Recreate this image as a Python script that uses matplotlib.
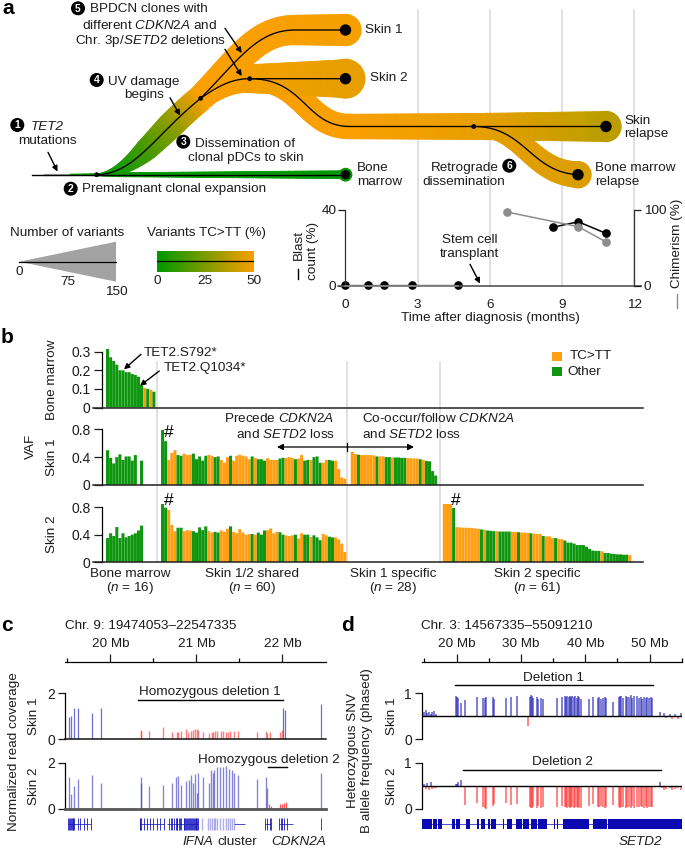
import numpy as np
import matplotlib
matplotlib.use('Agg')
import matplotlib.pyplot as plt
from matplotlib.colors import LinearSegmentedColormap
from matplotlib.collections import PolyCollection
from matplotlib.patches import Circle, Polygon, Rectangle

plt.rcParams['font.family'] = ['Liberation Sans', 'DejaVu Sans']
plt.rcParams['mathtext.fontset'] = 'custom'
plt.rcParams['mathtext.rm'] = 'Liberation Sans'
plt.rcParams['mathtext.it'] = 'Liberation Sans:italic'
plt.rcParams['mathtext.bf'] = 'Liberation Sans:bold'

W, H = 685, 848
FS = 9.7
INK = '#1c1c1c'
GREEN = '#0f960f'
ORANGE = '#ff9e12'
GUIDE = '#dedede'

# ---------------- panel a time course
blast_t = [0, 0.93, 1.62, 2.77, 4.66, 8.6, 9.67, 10.82]
blast_v = [0.5, 0.5, 0.5, 0.5, 0.5, 30.9, 33.8, 27.7]
chim_t = [0, 0.93, 1.62, 2.77, 4.66, 6.7, 9.67, 10.82]
chim_v = [0.3, 0.3, 0.3, 0.3, 0.3, 97.4, 78, 58]

# ---------------- panel b VAF values
bm_vaf_bm = [.33, .27, .25, .23, .20, .20, .19, .19, .18, .175, .165, .12, .105, .10, .095, .085]
bm_vaf_s1 = [.50, .39, .31, .40, .44, .36, .41, .41, .35, .43, 0, .35, 0, 0, 0, 0]
bm_vaf_s2 = [.35, .42, .38, .51, .35, .42, .36, .38, .40, .42, .46, .53, 0, 0, 0, 0]
bm_type = 'ggggggggggggogog'

shared_s1 = [.79, .63, .36, .46, .50, .43, .42, .45, .43, .435,
             .45, .37, .41, .35, .42, .43, .42, .40, .41, .36,
             .32, .40, .42, .35, .42, .435, .42, .41, .37, .41,
             .39, .37, .37, .35, .385, .36, .36, .36, .38, .39,
             .39, .40, .39, .37, .38, .43, .35, .36, .36, .40,
             .41, .32, .32, .36, .36, .35, .35, .23, .11, .09]
shared_s2 = [.91, .79, .755, .54, .45, .50, .50, .45, .465, .46,
             .45, .43, .505, .465, .52, .45, .43, .44, .43, .46,
             .44, .485, .52, .44, .42, .48, .43, .40, .41, .41,
             .40, .43, .40, .46, .465, .49, .42, .44, .435, .40,
             .39, .38, .39, .40, .345, .42, .40, .40, .365, .39,
             .36, .32, .41, .39, .37, .36, .36, .33, .27, .15]
shared_type = ('ggooogg' 'ooo' 'ggggg' 'oo' 'gg' 'ooo' 'g' 'oooooo' 'g' 'o' 'ggg'
               'oooo' 'gg' 'ooo' 'g' 'oo' 'gg' 'o' 'ggg' 'oo' 'gg' 'o' 'ooo')[:60]

s1_vaf = [.475, .445, .435, .43, .43, .43, .43, .425, .41, .41,
          .41, .40, .40, .395, .395, .395, .39, .39, .385, .385,
          .38, .38, .37, .36, .345, .34, .20, .135]
s1_type = 'oogooooogoo' 'ggo' 'gggg' 'oooo' 'gogggg'

s2_vaf = [.91, .90, .87, .785, .51, .505, .50, .50, .50, .495,
          .49, .485, .475, .47, .46, .455, .45, .45, .445, .445,
          .445, .445, .44, .44, .435, .43, .43, .425, .42, .415,
          .41, .41, .38, .375, .375, .35, .35, .34, .335, .315,
          .285, .285, .27, .25, .25, .25, .225, .195, .17, .165,
          .165, .16, .135, .135, .125, .12, .115, .115, .11, .11, .105]
s2_type = 'ooog' 'oooooooo' 'gogggo' 'gggg' 'oo' 'g' 'ooo' 'g' 'oo' 'o' 'g' 'ooo' 'g' 'oo' 'gggggggggggg' 'o' 'gggggggg' 'o'

# ---------------- panel c read coverage (position in Mb, normalized coverage)
c1_blue_pos = [19.517, 19.547, 19.578, 19.621, 19.783, 19.895, 22.008, 22.031, 22.452]
c1_blue_val = [.96, 1.03, 1.36, 1.36, 1.13, 1.36, 1.36, 1.28, 1.52]
c1_red_pos = [20.351, 20.359, 20.447, 20.617, 20.722, 20.772, 20.783, 20.822, 20.880, 20.907,
              20.934, 20.957, 20.984, 21.004, 21.023, 21.081, 21.147, 21.177, 21.197, 21.216,
              21.235, 21.286, 21.313, 21.340, 21.371, 21.390, 21.440, 21.479, 21.699, 21.803,
              21.823, 21.853, 21.969, 21.992]
c1_red_val = [.40, .37, .38, .55, .30, .33, .30, .38, .46, .33,
              .38, .39, .45, .46, .40, .30, .26, .30, .33, .35,
              .36, .38, .36, .33, .33, .38, .38, .38, .30, .36,
              .26, .30, .33, .40]
c2_blue_pos = [19.517, 19.547, 19.578, 19.621, 19.783, 19.895, 20.351, 20.359, 20.447, 20.617,
               20.722, 20.764, 20.783, 20.822, 20.880, 20.915, 20.934, 20.957, 20.984, 21.004,
               21.023, 21.081, 21.147, 21.166, 21.189, 21.208, 21.235, 21.274, 21.313, 21.340,
               21.378, 21.409, 21.440, 21.479, 21.699, 21.803, 21.823, 22.452]
c2_blue_val = [1.36, .64, .99, 1.29, 1.46, 1.13, 1.36, 1.13, .99, 1.04,
               1.13, 1.36, 1.42, 1.04, 1.20, 1.25, 1.46, 1.10, 1.49, .67,
               1.57, 1.36, 1.13, 1.68, 1.54, 1.68, 1.80, 1.80, 1.80, 1.86,
               1.71, 1.68, 1.54, 1.46, 1.29, 1.36, .88, 1.54]
c2_red_pos = [21.842, 21.861, 21.969, 21.992, 22.016, 22.039]
c2_red_val = [.20, .12, .20, .22, .26, .30]
c_exons = [19.51, 19.52, 19.53, 19.54, 19.55, 19.56, 19.57, 19.58, 19.62, 19.65, 19.69, 19.73, 19.78,
           20.34, 20.35, 20.36, 20.39, 20.42, 20.46, 20.49, 20.54, 20.58, 20.62,
           20.68, 20.70, 20.72, 20.74, 20.76, 20.77, 20.78, 20.80, 20.81, 20.82, 20.85, 20.86, 20.87,
           20.88, 20.89, 20.90, 20.91, 20.92, 20.94, 20.95, 20.96, 20.97, 20.98, 20.99, 21.00, 21.01, 21.02,
           21.80, 21.82, 21.85, 21.87, 21.96, 21.98, 22.00, 22.02, 22.05, 22.452]
c_light = [21.07, 21.14, 21.16, 21.18, 21.20, 21.22, 21.24, 21.27, 21.31, 21.34, 21.37, 21.39, 21.41, 21.44]
c_introns = [(19.51, 19.78), (20.34, 20.62), (20.66, 21.02), (21.44, 21.56), (21.80, 21.87), (21.96, 22.12)]

# ---------------- panel d B allele frequency
snv_pos = [19.9, 20.05, 20.2, 20.62, 21.3, 23.2, 24.1, 24.35, 24.56, 25.65,
           25.85, 27.6, 28.45, 29.43, 31.45, 31.6, 31.76, 31.9, 32.44, 32.64,
           33.16, 33.37, 35.65, 36.4, 36.8, 37.0, 37.2, 37.4, 37.6, 37.8,
           38.0, 38.24, 38.45, 38.65, 38.86, 39.07, 39.27, 40.57, 41.2, 42.0,
           42.2, 42.5, 42.8, 43.1, 43.3, 44.35, 45.23, 45.4, 45.6, 45.9,
           46.27, 46.5, 46.8, 47.05, 47.3, 47.57, 48.1, 48.34, 48.6, 48.86,
           49.1, 49.4, 49.64, 49.9, 50.15, 50.4]
snv_s1 = [.95, .93, .90, .80, .86, .92, .90, .90, .92, .91,
          .87, .89, .92, .95, .92, .97, .94, .90, .91, .88,
          .90, .88, .90, .91, .94, .92, .95, .93, .95, .92,
          .95, .93, .94, .90, .95, .92, .88, .88, .92, .90,
          .92, .88, .90, .92, .90, .82, .93, .95, .94, .90,
          .95, .93, .91, .96, .90, .94, .95, .90, .93, .88,
          .92, .90, .91, .90, .92, .89]
snv_s2 = [.55, .53, .58, .62, .08, .12, .04, .02, .00, .06,
          .10, .12, .08, .10, .05, .03, .02, .04, .03, .06,
          .03, .05, .05, .06, .05, .04, .03, .04, .03, .04,
          .05, .03, .05, .04, .02, .05, .02, .06, .10, .05,
          .04, .06, .04, .03, .05, .08, .05, .02, .04, .05,
          .02, .04, .05, .03, .06, .03, .05, .04, .07, .05,
          .03, .06, .02, .05, .04, .04]
flank_s1_pos = [14.9, 15.2, 15.4, 15.7, 16.0, 16.2, 16.5, 16.75, 31.14,
                51.7, 52.2, 52.6, 53.1, 53.5, 54.0, 54.4, 54.9]
flank_s1_val = [.60, .63, .58, .60, .55, .60, .62, .55, .29,
                .60, .58, .47, .55, .45, .56, .44, .58]
flank_s2_pos = [14.9, 15.2, 15.4, 15.7, 16.0, 16.2, 16.5, 16.75, 51.7,
                51.9, 52.2, 52.6, 53.1, 53.5, 54.0, 54.4, 54.9]
flank_s2_val = [.55, .43, .56, .42, .58, .44, .46, .45, .58,
                .45, .42, .44, .46, .40, .43, .45, .42]
d_exon_start = [14.66, 16.37, 17.15, 19.33, 19.95, 21.45, 23.21, 23.73, 24.87, 25.39, 27.2, 27.77, 29.27,
                30.36, 31.5, 32.64, 35.13, 35.65, 36.53, 41.24, 43.58]
d_exon_end = [16.22, 17.0, 17.67, 19.74, 20.52, 22.07, 23.47, 24.4, 25.13, 26.06, 27.36, 28.6, 30.2,
              31.24, 32.54, 34.09, 35.23, 35.8, 40.57, 43.42, 55.09]

# ---------------- figure helpers
fig = plt.figure(figsize=(W / 100, H / 100), dpi=100)


def axpx(x0, y0, x1, y1, z=2):
    ax = fig.add_axes([x0 / W, 1 - y1 / H, (x1 - x0) / W, (y1 - y0) / H], zorder=z)
    ax.patch.set_visible(False)
    return ax


def pxlayer(z):
    ax = axpx(0, 0, W, H, z)
    ax.set_xlim(0, W)
    ax.set_ylim(H, 0)
    ax.axis('off')
    return ax


bg = pxlayer(0)
fg = pxlayer(10)


def T(x, y, s, ha='left', size=FS, rot=0, **kw):
    fg.text(x, y, s, ha=ha, va='center', fontsize=size, rotation=rot, color=kw.pop('color', INK),
            rotation_mode='anchor' if rot == 0 else 'default', **kw)


def arrow(p, q, style='-|>', lw=1.0, ms=8):
    fg.annotate('', xy=q, xytext=p,
                arrowprops=dict(arrowstyle=style, color='black', lw=lw, mutation_scale=ms,
                                shrinkA=0, shrinkB=0))


def badge(x, y, n):
    fg.add_patch(Circle((x, y), 6.3, color='black', zorder=5))
    fg.text(x, y + .2, str(n), ha='center', va='center', color='white', fontsize=7.4,
            fontweight='bold', zorder=6)


# ---------------- panel a tree
tc = LinearSegmentedColormap.from_list('tc', ['#009800', '#fa9f00'])


def bez(p0, p1, p2, p3, n=60):
    t = np.linspace(0, 1, n)[:, None]
    p0, p1, p2, p3 = map(np.array, (p0, p1, p2, p3))
    return (1 - t) ** 3 * p0 + 3 * (1 - t) ** 2 * t * p1 + 3 * (1 - t) * t ** 2 * p2 + t ** 3 * p3


def ribbon(path, xk, wk, ck, z=1):
    d = np.gradient(path, axis=0)
    nrm = np.c_[-d[:, 1], d[:, 0]] / np.maximum(np.hypot(d[:, 0], d[:, 1]), 1e-6)[:, None]
    w = np.interp(path[:, 0], xk, wk)[:, None] / 2
    up, lo = path + nrm * w, path - nrm * w
    quads = [[up[i], up[i + 1], lo[i + 1], lo[i]] for i in range(len(path) - 1)]
    cols = tc(np.interp(path[:-1, 0], xk, ck))
    bg.add_collection(PolyCollection(quads, facecolors=cols, edgecolors=cols, linewidths=0.6, zorder=z))
    return cols


def seg(a, b, n=40):
    return np.linspace(a, b, n)


for xv in [418, 490.2, 562.4, 634.5]:
    bg.plot([xv, xv], [10, 286], color=GUIDE, lw=1.3, zorder=0.2)

trunk = bez((96.7, 174.7), (135, 174), (155, 135), (200.7, 98.3))
up1 = np.r_[bez((200.7, 98.3), (240, 58), (258, 30), (295, 30)), seg((295, 30), (345.5, 30))]
up2 = np.r_[bez((200.7, 98.3), (218, 86), (232, 78.7), (249.7, 78.7)), seg((249.7, 78.7), (345.5, 78.7))]
sbr = np.r_[bez((249.7, 78.7), (305, 78.7), (305, 126.5), (350, 126.5)), seg((350, 126.5), (606, 126.5))]
bmr = bez((473.7, 126.5), (525, 126.5), (530, 172), (578, 174.7))

bg.plot([45, 95], [174.7, 174.7], color='#a8a8a8', lw=1.6, zorder=0.8)
ribbon(seg((70, 174.7), (345.5, 174.7)), [70, 95, 120, 345.5], [1, 2, 4, 8], [0, 0, 0, 0])
ribbon(trunk, [96.7, 110, 125, 146, 170, 200.7], [1, 6, 13, 22, 26, 26], [0.02, 0.06, 0.12, 0.28, 0.55, 1])
ribbon(bmr, [473.7, 578], [18, 26], [.93, .87], z=1.1)
ribbon(sbr, [249.7, 345, 473, 606], [24, 24.5, 26, 30], [1, 1, .93, .75], z=1.2)
ribbon(up2, [200.7, 250, 345.5], [22, 28, 38], [1, .97, .92], z=1.2)
ribbon(up1, [200.7, 245, 345.5], [26, 28, 31], [1, 1, .98], z=1.3)
bg.add_patch(Circle((345.5, 30), 15.5, color=tc(.98), zorder=1.3))
bg.add_patch(Circle((345.5, 78.7), 19.3, color=tc(.92), zorder=1.2))
bg.add_patch(Circle((606, 126.5), 15, color=tc(.75), zorder=1.2))
bg.add_patch(Circle((578, 174.7), 13, color=tc(.87), zorder=1.1))
bg.add_patch(Circle((345.5, 174.7), 6.2, color=tc(0), zorder=1.1))

for p in (trunk, up1, up2, sbr, bmr):
    bg.plot(p[:, 0], p[:, 1], color='black', lw=0.95, zorder=2)
bg.plot([32, 345.5], [174.7, 174.7], color='black', lw=1.0, zorder=2)
for (x, y), r in [((345.5, 30), 5), ((345.5, 78.7), 5), ((606, 126.5), 5), ((578, 174.7), 5),
                  ((345.5, 174.7), 4), ((96.7, 174.7), 1.7), ((200.7, 98.3), 1.7),
                  ((249.7, 78.7), 1.7), ((473.7, 126.5), 1.7)]:
    bg.add_patch(Circle((x, y), r, color='black', zorder=3))

badge(78, 8.3, 5)
T(90, 9, 'BPDCN clones with')
T(81.7, 25.7, r'different $\mathit{CDKN2A}$ and')
T(74.7, 41.3, r'Chr. 3p/$\mathit{SETD2}$ deletions')
badge(96.7, 80, 4)
T(108, 81.7, 'UV damage')
T(124, 95.3, 'begins')
badge(17.3, 125, 1)
T(30.7, 127.3, 'TET2', style='italic')
T(18.3, 141.3, 'mutations')
badge(70.7, 188.7, 2)
T(81.7, 188.7, 'Premalignant clonal expansion')
badge(183.3, 141.7, 3)
T(195, 144.3, 'Dissemination of')
T(188.3, 158, 'clonal pDCs to skin')
arrow((48, 152.3), (57.5, 171.5))
arrow((170, 97.7), (180, 115.5))
arrow((225, 28.3), (241.7, 53))
arrow((225, 49.3), (241.7, 76))
T(365, 30.3, 'Skin 1')
T(370, 78.3, 'Skin 2')
T(624.3, 120.7, 'Skin')
T(624.3, 134.3, 'relapse')
T(357.3, 168.3, 'Bone')
T(357.3, 181.7, 'marrow')
T(430.7, 168.3, 'Retrograde')
T(422.7, 181.7, 'dissemination')
badge(509.3, 165.7, 6)
T(595, 168.3, 'Bone marrow')
T(595, 181.7, 'relapse')
T(441.7, 240, 'Stem cell')
T(440, 254, 'transplant')
arrow((470, 264.3), (480, 283.5))
fg.text(2, 8.5, 'a', fontsize=15, fontweight='bold', va='center', color='black')

# legends
T(10, 233.3, 'Number of variants')
fg.add_patch(Polygon([(19.3, 261.7), (116, 241.7), (116, 281.7)], color='#a3a3a3', lw=0))
fg.plot([19.3, 116], [261.7, 261.7], color='black', lw=0.9)
for x, y, s in [(19.3, 271.7, '0'), (67.7, 281.7, '75'), (116, 291.7, '150')]:
    T(x, y, s, ha='center')
T(147, 233.3, 'Variants TC>TT (%)')
axc = axpx(157, 251, 254, 271.7, 3)
axc.imshow(np.linspace(0, 1, 200)[None, :], cmap=tc, aspect='auto', extent=[0, 50, 0, 1])
axc.axis('off')
axc.plot([0, 50], [.5, .5], color='black', lw=0.9)
axc.set_xlim(0, 50)
axc.set_ylim(0, 1)
for x, s in [(157, '0'), (205.3, '25'), (254, '50')]:
    T(x, 280.7, s, ha='center')

# time course axes
axt = axpx(345.3, 210, 634.5, 286, 3)
axt.set_xlim(0, 12)
axt.set_ylim(0, 40)
axr = axt.twinx()
axr.patch.set_visible(False)
axr.set_ylim(0, 100)
axr.plot(chim_t[:5], chim_v[:5], color='#8d8d8d', lw=1.1, marker='o', ms=0, clip_on=False)
axr.plot(chim_t[5:], chim_v[5:], color='#8d8d8d', lw=1.1, marker='o', ms=5.2, clip_on=False)
axt.plot(blast_t[:5], blast_v[:5], color='black', lw=0.9, marker='o', ms=5.2, clip_on=False)
axt.plot(blast_t[5:], blast_v[5:], color='black', lw=1.1, marker='o', ms=5.2, clip_on=False)
for a in (axt, axr):
    for s in ('top', 'left', 'right', 'bottom'):
        a.spines[s].set_visible(False)
axt.spines['left'].set_visible(True)
axr.spines['right'].set_visible(True)
axt.spines['bottom'].set_visible(True)
for a in (axt, axr):
    for s in a.spines.values():
        s.set_linewidth(0.9)
        s.set_color('#333333')
axt.spines['bottom'].set_bounds(-0.3, 12.25)
axt.spines['bottom'].set_linewidth(1.2)
axt.spines['bottom'].set_color('#555555')
axt.set_xticks([0, 3, 6, 9, 12])
axt.set_yticks([0, 40])
axr.set_yticks([0, 100])
axt.tick_params(axis='x', length=0, labelsize=FS, pad=9, colors=INK)
axt.tick_params(axis='y', length=5, width=0.9, labelsize=FS, pad=1.5, colors=INK)
axr.tick_params(axis='y', length=5, width=0.9, labelsize=FS, pad=1.5, colors=INK)
T(490, 318, 'Time after diagnosis (months)', ha='center')
T(299, 245, 'Blast', ha='center', rot=90)
T(313, 251, 'count (%)', ha='center', rot=90)
fg.plot([298, 298], [268.5, 278.5], color='black', lw=1)
T(677, 243, 'Chimerism (%)', ha='center', rot=90)
fg.plot([677, 677], [293.5, 308], color='#8d8d8d', lw=1)

# ---------------- panel b
BX0, BSTEP = 106.0, 3.09
starts = [0, 17.8, 79.2, 109.0]
xl = ((93 - BX0) / BSTEP, (642.7 - BX0) / BSTEP)


def vaf_axes(y_top, y0, ymax, ticks, labels, groups):
    ax = axpx(93, y_top, 642.7, y0, 3)
    ax.set_xlim(*xl)
    ax.set_ylim(0, ymax)
    for st, vals, typ in groups:
        xs = st + np.arange(len(vals)) + .5
        cols = [ORANGE if c == 'o' else GREEN for c in typ]
        bars = ax.bar(xs, vals, width=.98, color=cols, lw=0)
        for b in bars:
            b.set_snap(False)
    for s in ('top', 'right'):
        ax.spines[s].set_visible(False)
    ax.spines['left'].set_position(('data', (101.7 - BX0) / BSTEP))
    ax.spines['left'].set_bounds(0, ticks[-1])
    ax.spines['left'].set_linewidth(0.9)
    ax.spines['bottom'].set_linewidth(1.1)
    ax.spines['bottom'].set_color('#222222')
    ax.set_xticks([])
    ax.set_yticks(ticks, labels)
    ax.tick_params(axis='y', length=6, width=0.9, labelsize=FS + .3, pad=2, colors=INK)
    return ax


vaf_axes(351.7 - 3, 407.5, .3 + 3 / 186, [0, .1, .2, .3], ['0', '0.1', '0.2', '0.3'],
         [(starts[0], bm_vaf_bm, bm_type)])
vaf_axes(429.3 - 3, 485, .8 + 3 / 69.6, [0, .4, .8], ['0', '0.4', '0.8'],
         [(starts[0], bm_vaf_s1, bm_type), (starts[1], shared_s1, shared_type),
          (starts[2], s1_vaf, s1_type)])
vaf_axes(507 - 3, 562.3, .8 + 3 / 69.1, [0, .4, .8], ['0', '0.4', '0.8'],
         [(starts[0], bm_vaf_s2, bm_type), (starts[1], shared_s2, shared_type),
          (starts[3], s2_vaf, s2_type)])
for xv in (157.5, 347.3, 440):
    bg.plot([xv, xv], [362, 562], color=GUIDE, lw=1.3, zorder=0.2)

fg.text(1, 337.5, 'b', fontsize=15, fontweight='bold', va='center', color='black')
T(51.7, 380, 'Bone marrow', ha='center', rot=90)
T(51.7, 457.7, 'Skin 1', ha='center', rot=90)
T(51.7, 534.3, 'Skin 2', ha='center', rot=90)
T(30.7, 446.7, 'VAF', ha='center', rot=90)
T(143.3, 353.3, 'TET2.S792*')
T(163.3, 368.3, 'TET2.Q1034*')
arrow((141, 354.3), (124, 369.3))
arrow((159.3, 371), (140, 385.7))
T(224, 419, r'Precede $\mathit{CDKN2A}$')
T(236, 435, r'and $\mathit{SETD2}$ loss')
T(361.7, 419, r'Co-occur/follow $\mathit{CDKN2A}$')
T(361.7, 435, r'and $\mathit{SETD2}$ loss')
arrow((347.3, 447), (277, 447), lw=.9, ms=9)
arrow((347.3, 447), (414, 447), lw=.9, ms=9)
fg.plot([347.3, 347.3], [443, 451], color='black', lw=.9)
for x, y in [(168.3, 432.7), (168.3, 500.3), (456, 500.3)]:
    T(x, y, '#', ha='center', size=12.5, color='black')
for x, a, b in [(130, 'Bone marrow', '16'), (252.3, 'Skin 1/2 shared', '60'),
                (393.3, 'Skin 1 specific', '28'), (537.3, 'Skin 2 specific', '61')]:
    T(x, 574.3, a, ha='center')
    T(x, 588.3, r'($\mathit{n}$ = ' + b + ')', ha='center')
fg.add_patch(Rectangle((552.3, 351.7), 9.4, 9.4, color=ORANGE, lw=0))
fg.add_patch(Rectangle((552.3, 367), 9.4, 9.4, color=GREEN, lw=0))
T(570, 356.3, 'TC>TT')
T(567.7, 371.7, 'Other')


# ---------------- genome rulers
def ruler(x0, x1, lim, major, minor, lab):
    ax = axpx(x0, 662.3, x1, 672, 3)
    ax.set_xlim(*lim)
    ax.set_ylim(0, 1)
    for s in ('left', 'right', 'bottom'):
        ax.spines[s].set_visible(False)
    ax.spines['top'].set_linewidth(0.9)
    ax.set_yticks([])
    ax.xaxis.tick_top()
    ax.set_xticks(major, lab)
    ax.set_xticks(minor, minor=True)
    ax.tick_params(axis='x', which='major', length=6, width=.9, labelsize=FS, pad=2.5, colors=INK)
    ax.tick_params(axis='x', which='minor', length=3, width=.9)


def track(x0, x1, ytop, ybot, xlim, ylim, ticks, thick=False):
    ax = axpx(x0, ytop, x1, ybot, 3)
    ax.set_xlim(*xlim)
    ax.set_ylim(*ylim)
    for s in ('top', 'right'):
        ax.spines[s].set_visible(False)
    ax.spines['left'].set_linewidth(.9)
    ax.spines['bottom'].set_linewidth(2 if thick else 1.1)
    ax.spines['bottom'].set_color('#555555' if thick else '#111111')
    ax.set_xticks([])
    ax.set_yticks(ticks)
    ax.tick_params(axis='y', length=5, width=.9, labelsize=FS + .3, pad=2, colors=INK)
    return ax


CLIM = (19.467, 22.50)
BLUE = '#3030c0'
RED = '#ff2a2a'
ruler(64.5, 325.5, CLIM, [20, 21, 22], [19.5, 20.5, 21.5], ['20 Mb', '21 Mb', '22 Mb'])
a1 = track(64.5, 325.5, 693.3, 739.3, CLIM, (0, 2), [0, 2])
a1.vlines(c1_blue_pos, 0, c1_blue_val, color=BLUE, lw=.9, alpha=.7)
a1.vlines(c1_red_pos, 0, c1_red_val, color=RED, lw=1.0, alpha=.6)
a2 = track(64.5, 325.5, 762.7, 808.7, CLIM, (0, 2), [0, 2], thick=True)
a2.vlines(c2_blue_pos, 0, c2_blue_val, color=BLUE, lw=.95, alpha=.6)
a2.vlines(c2_red_pos, 0, c2_red_val, color=RED, lw=.9, alpha=.8)
g = axpx(64.5, 816, 325.5, 832, 3)
g.set_xlim(*CLIM)
g.set_ylim(0, 1)
g.axis('off')
g.hlines([.5] * len(c_introns), [i[0] for i in c_introns], [i[1] for i in c_introns], color=BLUE, lw=.6)
g.vlines(c_exons, .12, .88, color='#1616c0', lw=.7, alpha=.85)
g.vlines(c_light, .12, .88, color='#7070d8', lw=1, alpha=.55)

fg.text(1, 625.7, 'c', fontsize=15, fontweight='bold', va='center', color='black')
T(65, 626, 'Chr. 9: 19474053–22547335')
T(14, 751.7, 'Normalized read coverage', ha='center', rot=90)
T(34.3, 716.7, 'Skin 1', ha='center', rot=90)
T(34.3, 785.7, 'Skin 2', ha='center', rot=90)
T(210, 692, 'Homozygous deletion 1', ha='center')
fg.plot([138.3, 282.7], [700.3, 700.3], color='black', lw=1)
T(198, 760, 'Homozygous deletion 2')
fg.plot([268.3, 286.7], [767.3, 767.3], color='black', lw=1)
T(182.7, 842, 'IFNA', style='italic')
T(217, 842, 'cluster')
T(326, 842, 'CDKN2A', ha='right', style='italic')

# ---------------- panel d
DLIM = (14.567, 55.09)
ruler(421.7, 682.3, DLIM, [20, 30, 40, 50], [15, 25, 35, 45, 55], ['20 Mb', '30 Mb', '40 Mb', '50 Mb'])
for ytop, ybot, pos, vals in [(693.3, 739.3, snv_pos + flank_s1_pos, snv_s1 + flank_s1_val),
                              (762.7, 809, snv_pos + flank_s2_pos, snv_s2 + flank_s2_val)]:
    a = track(421.7, 682.3, ytop, ybot, DLIM, (0, 1), [0, 1])
    a.spines['bottom'].set_visible(False)
    pos, vals = np.array(pos), np.array(vals)
    up = vals >= .5
    a.vlines(pos[up], .5, vals[up], color='#2a2ab8', lw=1.25, alpha=.68)
    a.vlines(pos[~up], .5, vals[~up], color=RED, lw=1.3, alpha=.62)
    a.axhline(.5, color='black', lw=1.0, zorder=4)
g = axpx(421.7, 819, 682.3, 829, 3)
g.set_xlim(*DLIM)
g.set_ylim(0, 1)
g.axis('off')
g.broken_barh([(a, b - a) for a, b in zip(d_exon_start, d_exon_end)], (0, 1), color='#0a0ab0', lw=0)
g.hlines(.5, DLIM[0], DLIM[1], color='#0a0ab0', lw=.5)

fg.text(341, 625.7, 'd', fontsize=15, fontweight='bold', va='center', color='black')
T(421, 626, 'Chr. 3: 14567335–55091210')
T(352.7, 750.8, 'Heterozygous SNV', ha='center', rot=90)
T(367.3, 750.8, 'B allele frequency (phased)', ha='center', rot=90)
T(392.3, 716.7, 'Skin 1', ha='center', rot=90)
T(392.3, 786, 'Skin 2', ha='center', rot=90)
T(553.3, 677.7, 'Deletion 1', ha='center')
fg.plot([455, 652.7], [685.3, 685.3], color='black', lw=1)
T(562.3, 762, 'Deletion 2', ha='center')
fg.plot([463.3, 661.3], [770.3, 770.3], color='black', lw=1)
T(640, 842, 'SETD2', ha='center', style='italic')

fig.savefig('out.png', dpi=100)
